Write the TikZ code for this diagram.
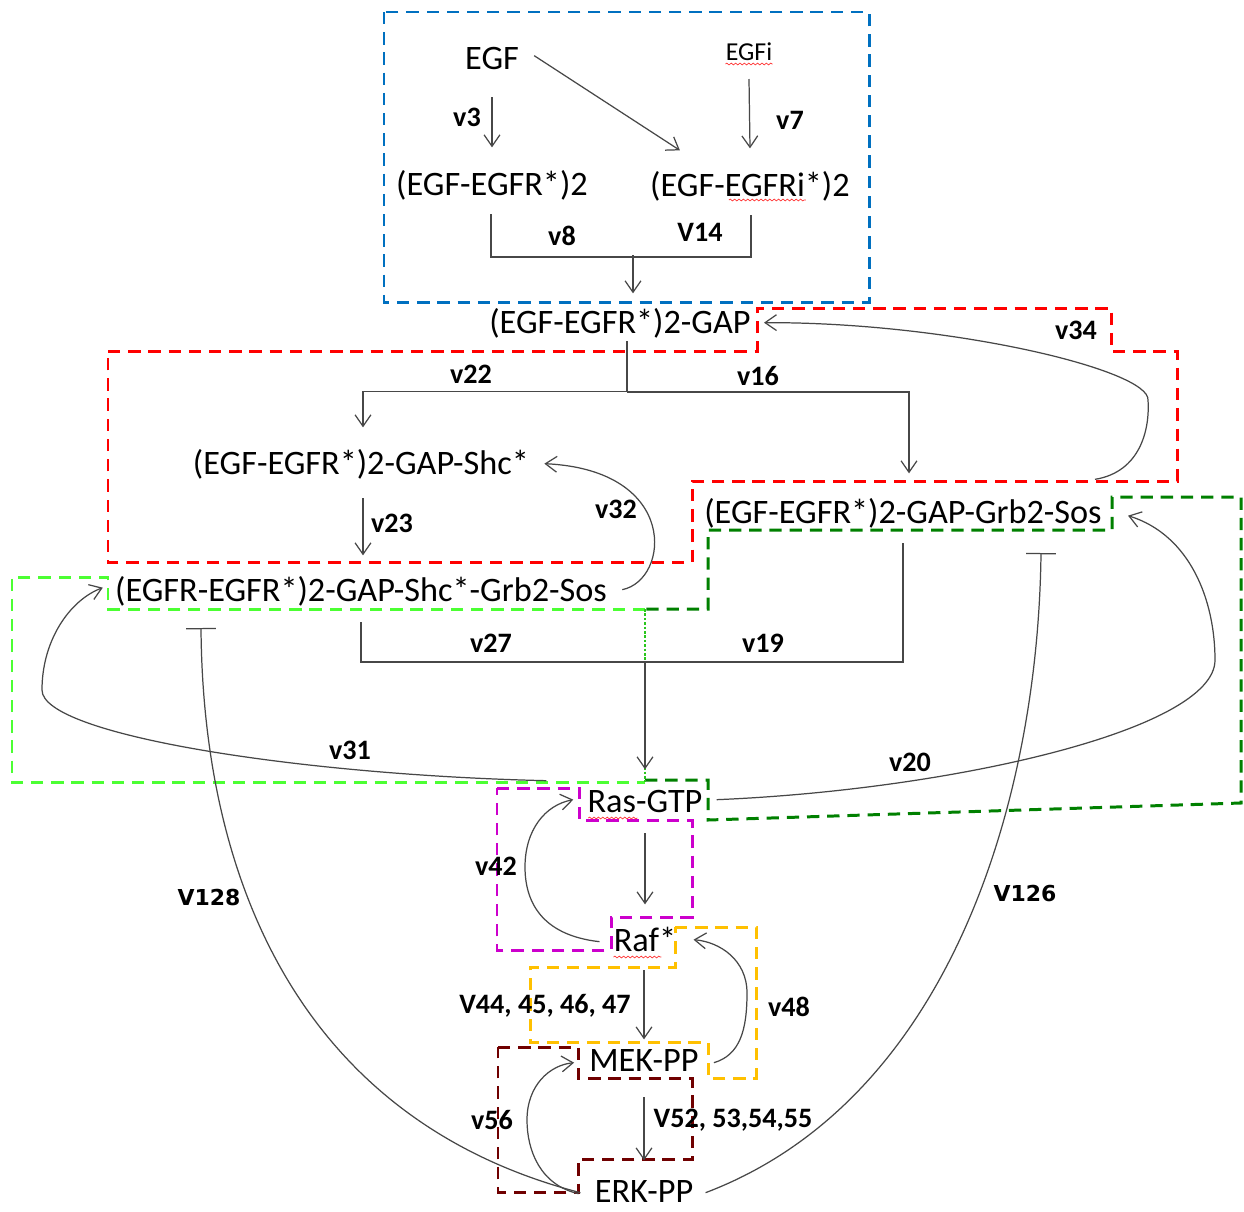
\documentclass[tikz,border=0pt]{standalone}
\usepackage{fontspec}
\setmainfont{Carlito}
\newfontfamily\dejavub{DejaVu Sans}
\usetikzlibrary{arrows.meta,calc,decorations.pathmorphing}
\definecolor{cblue}{HTML}{0070C0}
\definecolor{cred}{HTML}{FF0000}
\definecolor{clgreen}{HTML}{4CFF33}
\definecolor{cdgreen}{HTML}{008000}
\definecolor{cmag}{HTML}{CC00CC}
\definecolor{corange}{HTML}{FFC000}
\definecolor{cdred}{HTML}{700000}
\begin{document}
\begin{tikzpicture}[x=0.02cm,y=-0.02cm,
  species/.style={inner sep=0pt, anchor=south, text height=12.5pt, text depth=0pt, font=\fontsize{19.5}{23}\selectfont},
  lbl/.style={inner sep=0pt, font=\fontsize{16}{19}\selectfont\bfseries},
  lblv/.style={inner sep=0pt, font=\dejavub\fontsize{12.5}{15}\selectfont\bfseries},
  conn/.style={draw=black!72, line width=0.7pt},
  arr/.style={conn, -{Straight Barb[length=6.5pt,width=9pt]}},
  inh/.style={conn, {Bar[width=17pt]}-},
  box/.style={line width=1.7pt, dash pattern=on 7pt off 4.5pt, line join=miter},
  wavy/.style={draw=red!80!white, line width=0.4pt, decorate, decoration={snake, amplitude=0.5pt, segment length=2.5pt}},
]
\useasboundingbox[fill=white] (0,0) rectangle (1244,1211);

% ---- dashed module boxes ----
\draw[box, cblue] (384,12) rectangle (869,302);
\draw[box, cred] (108,351) -- (757,351) -- (757,308) -- (1111,308) -- (1111,351) -- (1177,351)
  -- (1177,481) -- (692,481) -- (692,562) -- (108,562) -- cycle;
\draw[box, clgreen] (645,609) -- (108,609) -- (108,577) -- (12,577) -- (12,782) -- (645,782);
\draw[box, cdgreen] (645,780) -- (708,780) -- (708,820) -- (1241,803) -- (1241,497) -- (1112,497)
  -- (1112,530) -- (708,530) -- (708,609) -- (645,609);
\draw[box, cmag] (497,788) -- (579,788) -- (579,820) -- (692,820) -- (692,917) -- (611,917)
  -- (611,950) -- (497,950) -- cycle;
\draw[box, corange] (675,927) -- (756,927) -- (756,1078) -- (708,1078) -- (708,1042) -- (530,1042)
  -- (530,967) -- (675,967) -- cycle;
\draw[box, cdred] (498,1047) -- (578,1047) -- (578,1078) -- (692,1078) -- (692,1159) -- (578,1159)
  -- (578,1192) -- (498,1192) -- cycle;
% shared thin dotted side of the two green boxes
\draw[clgreen!55!cdgreen, line width=1.5pt, densely dotted] (645,609) -- (645,782);

% ---- species ----
\node[species] (egf) at (492,70) {EGF};
\node[species, text height=9.5pt, font=\fontsize{14.7}{17}\selectfont] (egfi) at (749,61) {EGFi};
\node[species] (d1) at (492,196) {(EGF-EGFR*)2};
\node[species] (d2) at (750,197) {(EGF-EGFRi*)2};
\node[species] (gap) at (620,334) {(EGF-EGFR*)2-GAP};
\node[species] (shc) at (361,475) {(EGF-EGFR*)2-GAP-Shc*};
\node[species] (grb) at (903,524) {(EGF-EGFR*)2-GAP-Grb2-Sos};
\node[species] (shcgrb) at (361,602) {(EGFR-EGFR*)2-GAP-Shc*-Grb2-Sos};
\node[species] (ras) at (645,813) {Ras-GTP};
\node[species] (raf) at (645,952) {Raf*};
\node[species] (mek) at (644,1072) {MEK-PP};
\node[species] (erk) at (644,1203) {ERK-PP};

% spell-check underlines
\draw[wavy] ($(egfi.south west)+(0,3)$) -- ($(egfi.south east)+(0,3)$);
\draw[wavy] ($(d2.south west)+(79,3)$) -- ($(d2.south west)+(156,3)$);
\draw[wavy] ($(ras.south west)+(1,5)$) -- ($(ras.south west)+(50,5)$);
\draw[wavy] ($(raf.south west)+(0,5)$) -- ($(raf.south west)+(48,5)$);

% ---- reaction labels ----
\node[lbl] (l3) at (467,117) {v3};
\node[lbl] (l7) at (790,120) {v7};
\node[lbl] (l8) at (562,236) {v8};
\node[lbl] (l14) at (700,232) {V14};
\node[lbl] (l22) at (471,374) {v22};
\node[lbl] (l16) at (758,376) {v16};
\node[lbl] (l34) at (1076,330) {v34};
\node[lbl] (l23) at (392,523) {v23};
\node[lbl] (l32) at (616,509) {v32};
\node[lbl] (l27) at (491,643) {v27};
\node[lbl] (l19) at (763,643) {v19};
\node[lbl] (l31) at (350,750) {v31};
\node[lbl] (l20) at (910,762) {v20};
\node[lbl] (l42) at (496,866) {v42};
\node[lblv] (l128) at (209,897) {V128};
\node[lblv] (l126) at (1025,893) {V126};
\node[lbl] (l44) at (545,1006) {V44, 45, 46, 47};
\node[lbl] (l48) at (789,1007) {v48};
\node[lbl] (l56) at (492,1120) {v56};
\node[lbl] (l52) at (733,1120) {V52, 53,54,55};

% ---- connectors ----
\draw[arr] ($(egf.south)+(0,27)$) -- ($(d1.north)+(0,-26)$);
\draw[arr] ($(egf.east)+(15,-3)$) -- ($(d2.north west)+(30,-24)$);
\draw[arr] ($(egfi.south)+(0,18)$) -- ($(d2.north)+(0,-26)$);
\draw[conn] ($(d1.south)+(-1,18)$) |- ($(d2.south)+(1,60)$) -- ($(d2.south)+(1,18)$);
\draw[arr] ($(gap.north)+(13,-56)$) -- ($(gap.north)+(13,-18)$);

\draw[arr] ($(gap.south)+(7,7)$) |- ($(shc.north)+(2,-61)$) -- ($(shc.north)+(2,-25)$);
\draw[arr] ($(gap.south)+(7,58)$) -| ($(grb.north)+(6,-28)$);
\draw[arr] ($(shc.south)+(2,23)$) -- ($(shcgrb.north)+(2,-24)$);

% v32
\draw[arr] ($(shcgrb.east)+(15,-1)$) .. controls (670,580) and (680,470) .. ($(shc.east)+(15,0)$);
% v34
\draw[arr] ($(grb.north)+(192,-22)$) .. controls (1140,472) and (1150,430) .. (1148,400)
  .. controls (1150,370) and (950,322) .. ($(gap.east)+(13,0)$);

% v19 / v27 join
\draw[conn] ($(grb.south)+(0,19)$) |- ($(shcgrb.south)+(0,60)$) -- ($(shcgrb.south)+(0,20)$);
\draw[arr] ($(ras.north)+(0,-129)$) -- ($(ras.north)+(0,-21)$);

% v31
\draw[arr] ($(ras.west)+(-41,-21)$) .. controls (300,775) and (42,735) .. (42,690)
  .. controls (42,640) and (70,600) .. ($(shcgrb.west)+(-12,-3)$);
% v20
\draw[arr] ($(ras.east)+(14,-2)$) .. controls (950,790) and (1215,730) .. (1215,660)
  .. controls (1215,600) and (1190,535) .. ($(grb.east)+(26,3)$);

% MAPK cascade
\draw[arr] ($(ras.south)+(0,20)$) -- ($(raf.north)+(0,-25)$);
\draw[arr] ($(raf.south)+(-1,18)$) -- ($(mek.north)+(0,-10)$);
\draw[arr] ($(mek.south)+(0,25)$) -- ($(erk.north)+(0,-20)$);
% v42
\draw[arr] ($(raf.west)+(-14,1)$) .. controls (540,935) and (525,900) .. (525,867)
  .. controls (525,830) and (545,805) .. ($(ras.west)+(-14,-2)$);
% v48
\draw[arr] ($(mek.east)+(15,2)$) .. controls (740,1055) and (747,1030) .. (747,993)
  .. controls (747,960) and (720,942) .. ($(raf.east)+(17,-1)$);
% v56
\draw[arr] ($(erk.west)+(-16,2)$) .. controls (540,1185) and (527,1150) .. (527,1120)
  .. controls (527,1085) and (550,1065) .. ($(mek.west)+(-15,2)$);

% feedback inhibitions
\draw[inh] ($(shcgrb.south)+(-160,26)$) .. controls (203,880) and (300,1120) .. ($(erk.west)+(-14,1)$);
\draw[inh] ($(grb.south)+(138,29)$) .. controls (1038,800) and (950,1100) .. ($(erk.east)+(12,1)$);
\end{tikzpicture}
\end{document}
